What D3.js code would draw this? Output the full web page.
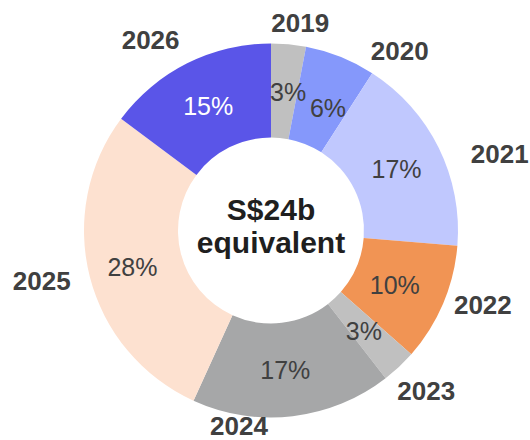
<!DOCTYPE html>
<html>
<head>
<meta charset="utf-8">
<script src="https://cdn.jsdelivr.net/npm/d3@7"></script>
<style>
  html, body { margin: 0; padding: 0; background: #fff; }
  svg { display: block; font-family: "Liberation Sans", Arial, sans-serif; }
</style>
</head>
<body>
<svg id="chart" width="530" height="440"></svg>
<script>
// Share of maturities by year (percent)
const years  = ["2019", "2020", "2021", "2022", "2023", "2024", "2025", "2026"];
const shares = [3.0, 6.1, 17.2, 10.2, 3.0, 17.3, 28.4, 14.8];
const colors = ["#c0c0c0", "#8598fb", "#c0c8fe", "#f19454", "#c0c0c0", "#a6a7a8", "#fde1d0", "#5a55e8"];
const pctTextColors = ["#404040", "#404040", "#404040", "#404040", "#404040", "#404040", "#404040", "#ffffff"];
const centerLines = ["S$24b", "equivalent"];

// Fine adjustment of the labels, in pixels
const yearNudge = [[9, 6], [49, 20], [36, 19], [14, -10], [8, 4], [-57, -18], [-21, -3], [-24, 2]];
const pctNudge  = [[4, 1], [5, 8], [0, 1], [-5, 0], [-3, -1], [-2, 1], [-3, 1.5], [0, 0.5]];

const cx = 271, cy = 230.5, rOuter = 187, rInner = 93, rYear = 215;

const svg = d3.select("#chart");
const g = svg.append("g").attr("transform", `translate(${cx},${cy})`);

const data = years.map((y, i) => ({ year: y, value: shares[i], i }));
const total = d3.sum(shares);

const pie = d3.pie().value(d => d.value).sort(null);
const arcs = pie(data);
const arc = d3.arc().innerRadius(rInner).outerRadius(rOuter);

g.selectAll("path.slice")
  .data(arcs)
  .join("path")
  .attr("class", "slice")
  .attr("d", arc)
  .attr("fill", d => colors[d.data.i]);

const fmt = v => Math.round(v / total * 100) + "%";

// Percentage labels near slice centroids
g.selectAll("text.pct")
  .data(arcs)
  .join("text")
  .attr("class", "pct")
  .attr("transform", d => {
    const [x, y] = arc.centroid(d);
    const n = pctNudge[d.data.i];
    return `translate(${x + n[0]},${y + n[1]})`;
  })
  .attr("text-anchor", "middle")
  .attr("dy", "0.35em")
  .attr("font-size", 25)
  .attr("fill", d => pctTextColors[d.data.i])
  .text(d => fmt(d.data.value));

// Year labels outside the ring
g.selectAll("text.year")
  .data(arcs)
  .join("text")
  .attr("class", "year")
  .attr("transform", d => {
    const a = (d.startAngle + d.endAngle) / 2;
    const n = yearNudge[d.data.i];
    const x = rYear * Math.sin(a) + n[0];
    const y = -rYear * Math.cos(a) + n[1];
    return `translate(${x},${y})`;
  })
  .attr("text-anchor", "middle")
  .attr("dy", "0.35em")
  .attr("font-size", 26)
  .attr("font-weight", "bold")
  .attr("fill", "#404040")
  .text(d => d.data.year);

// Centre caption
g.append("text")
  .attr("text-anchor", "middle")
  .attr("font-size", 30)
  .attr("font-weight", "bold")
  .attr("fill", "#1f1f1f")
  .selectAll("tspan")
  .data(centerLines)
  .join("tspan")
  .attr("x", 0)
  .attr("y", (d, i) => -11 + i * 33.2)
  .text(d => d);
</script>
</body>
</html>
